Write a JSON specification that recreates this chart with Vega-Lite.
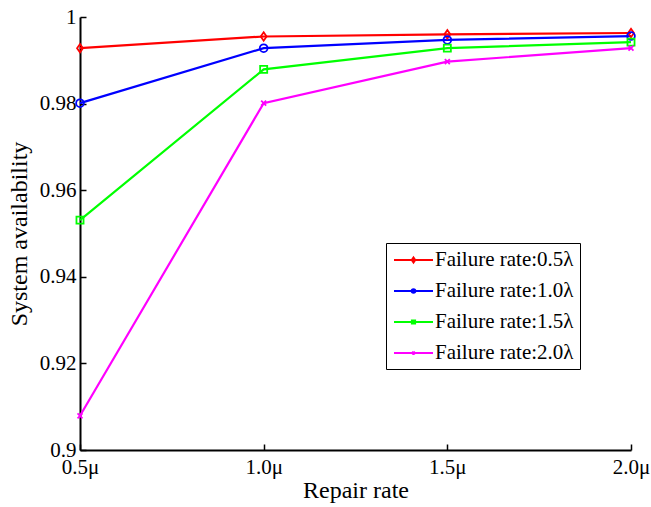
{
  "$schema": "https://vega.github.io/schema/vega-lite/v6.json",
  "width": 551,
  "height": 433,
  "autosize": {"type": "none"},
  "padding": {"left": 80, "top": 17, "right": 20, "bottom": 57},
  "background": "white",
  "config": {
    "view": {"stroke": null},
    "font": "Liberation Serif",
    "axis": {
      "grid": false,
      "domainColor": "black",
      "domainWidth": 2,
      "tickColor": "black",
      "tickWidth": 1.5,
      "tickSize": -6,
      "labelFlush": false,
      "labelFont": "Liberation Serif",
      "labelFontSize": 21,
      "labelColor": "black",
      "titleFont": "Liberation Serif",
      "titleFontSize": 24,
      "titleFontWeight": "normal",
      "titleColor": "black"
    }
  },
  "data": {
    "values": [
      {"repair": 0.5, "series": "Failure rate:0.5λ", "value": 0.9928},
      {"repair": 1.0, "series": "Failure rate:0.5λ", "value": 0.9955},
      {"repair": 1.5, "series": "Failure rate:0.5λ", "value": 0.9960},
      {"repair": 2.0, "series": "Failure rate:0.5λ", "value": 0.9963},
      {"repair": 0.5, "series": "Failure rate:1.0λ", "value": 0.9801},
      {"repair": 1.0, "series": "Failure rate:1.0λ", "value": 0.9928},
      {"repair": 1.5, "series": "Failure rate:1.0λ", "value": 0.9947},
      {"repair": 2.0, "series": "Failure rate:1.0λ", "value": 0.9956},
      {"repair": 0.5, "series": "Failure rate:1.5λ", "value": 0.9531},
      {"repair": 1.0, "series": "Failure rate:1.5λ", "value": 0.9879},
      {"repair": 1.5, "series": "Failure rate:1.5λ", "value": 0.9928},
      {"repair": 2.0, "series": "Failure rate:1.5λ", "value": 0.9942},
      {"repair": 0.5, "series": "Failure rate:2.0λ", "value": 0.9079},
      {"repair": 1.0, "series": "Failure rate:2.0λ", "value": 0.9801},
      {"repair": 1.5, "series": "Failure rate:2.0λ", "value": 0.9897},
      {"repair": 2.0, "series": "Failure rate:2.0λ", "value": 0.9928}
    ]
  },
  "encoding": {
    "x": {
      "field": "repair",
      "type": "quantitative",
      "scale": {"domain": [0.5, 2.0], "nice": false, "zero": false},
      "axis": {
        "values": [0.5, 1.0, 1.5, 2.0],
        "labelExpr": "format(datum.value, '.1f') + 'μ'",
        "labelPadding": 12,
        "title": "Repair rate",
        "titlePadding": 1
      }
    },
    "y": {
      "field": "value",
      "type": "quantitative",
      "scale": {"domain": [0.9, 1.0], "nice": false, "zero": false},
      "axis": {
        "values": [0.9, 0.92, 0.94, 0.96, 0.98, 1.0],
        "format": ".2~f",
        "labelPadding": 10,
        "title": "System availability",
        "titlePadding": 8
      }
    },
    "color": {
      "field": "series",
      "type": "nominal",
      "scale": {
        "domain": ["Failure rate:0.5λ", "Failure rate:1.0λ", "Failure rate:1.5λ", "Failure rate:2.0λ"],
        "range": ["#ff0000", "#0000ff", "#00ff00", "#ff00ff"]
      },
      "legend": {
        "title": null,
        "orient": "none",
        "legendX": 306,
        "legendY": 226,
        "strokeColor": "black",
        "fillColor": "white",
        "padding": 6,
        "symbolSize": 400,
        "symbolStrokeWidth": 2,
        "symbolFillColor": "transparent",
        "symbolOffset": 10.5,
        "labelOffset": 10.5,
        "labelFont": "Liberation Serif",
        "labelFontSize": 21,
        "labelColor": "black",
        "rowPadding": 10,
        "encode": {
          "symbols": {
            "update": {
              "shape": {"signal": "datum.value === 'Failure rate:0.5λ' ? 'M-1.95,0L1.95,0M0,-0.25L0.17,0L0,0.25L-0.17,0Z' : datum.value === 'Failure rate:1.0λ' ? 'M-1.95,0L1.95,0M0.18,0A0.18,0.18 0 1,1 -0.18,0A0.18,0.18 0 1,1 0.18,0Z' : datum.value === 'Failure rate:1.5λ' ? 'M-1.95,0L1.95,0M-0.16,-0.16L0.16,-0.16L0.16,0.16L-0.16,0.16Z' : 'M-1.95,0L1.95,0M-0.14,-0.14L0.14,0.14M-0.14,0.14L0.14,-0.14'"},
              "fill": {"value": "transparent"},
              "strokeWidth": {"value": 2}
            }
          }
        }
      }
    }
  },
  "layer": [
    {"mark": {"type": "line", "strokeWidth": 2.2}},
    {
      "transform": [{"filter": "datum.series === 'Failure rate:0.5λ'"}],
      "mark": {"type": "point", "filled": false, "strokeWidth": 1.8, "size": 70, "opacity": 1, "shape": "M0,-1L0.7,0L0,1L-0.7,0Z"}
    },
    {
      "transform": [{"filter": "datum.series === 'Failure rate:1.0λ'"}],
      "mark": {"type": "point", "filled": false, "strokeWidth": 1.8, "size": 60, "opacity": 1, "shape": "circle"}
    },
    {
      "transform": [{"filter": "datum.series === 'Failure rate:1.5λ'"}],
      "mark": {"type": "point", "filled": false, "strokeWidth": 1.8, "size": 50, "opacity": 1, "shape": "square"}
    },
    {
      "transform": [{"filter": "datum.series === 'Failure rate:2.0λ'"}],
      "mark": {"type": "point", "filled": false, "strokeWidth": 1.8, "size": 50, "opacity": 1, "shape": "M-0.7,-0.7L0.7,0.7M-0.7,0.7L0.7,-0.7"}
    }
  ]
}
